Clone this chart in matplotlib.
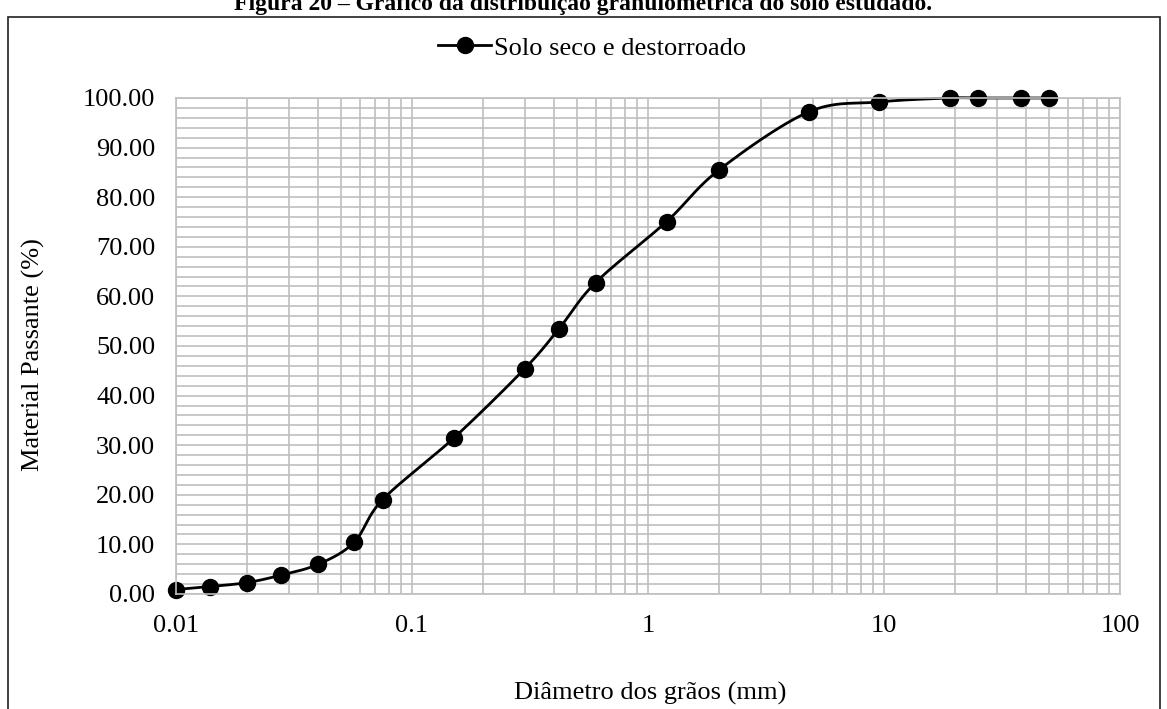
import numpy as np
import matplotlib.pyplot as plt
from matplotlib.patches import Rectangle
from matplotlib.ticker import FixedLocator, LogLocator, NullFormatter

plt.rcParams['font.family'] = ['Liberation Serif', 'DejaVu Serif']

# granulometria: diâmetro (mm) x material passante (%)
diametros = [0.01, 0.0139, 0.02, 0.0278, 0.0401, 0.0568, 0.075, 0.15, 0.3, 0.42,
             0.6, 1.2, 2.0, 4.8, 9.5, 19, 25, 38, 50]
passante = [0.9, 1.5, 2.3, 3.8, 6.0, 10.4, 19.0, 31.4, 45.4, 53.5,
            62.8, 75.1, 85.5, 97.2, 99.2, 100.0, 100.0, 100.0, 100.0]

serie = 'Solo seco e destorroado'
titulo = 'Figura 20 – Gráfico da distribuição granulométrica do solo estudado.'
xticks = [0.01, 0.1, 1, 10, 100]
xticklabels = ['0.01', '0.1', '1', '10', '100']
yticks = list(range(0, 101, 10))

fs = 19
W, H = 1167, 709
fig = plt.figure(figsize=(W / 100, H / 100), dpi=100)
ax = fig.add_axes([176 / W, 1 - 594 / H, (1120 - 176) / W, (594 - 98) / H])

ax.set_xscale('log')
ax.set_xlim(0.01, 100)
ax.set_ylim(0, 100)

grid_c = '#BFBFBF'
ax.xaxis.set_major_locator(FixedLocator(xticks))
ax.xaxis.set_minor_locator(LogLocator(base=10, subs=np.arange(2, 10)))
ax.xaxis.set_minor_formatter(NullFormatter())
ax.set_xticklabels(xticklabels)
ax.yaxis.set_major_locator(FixedLocator(yticks))
ax.yaxis.set_minor_locator(FixedLocator(range(0, 101, 2)))
ax.set_yticklabels(['%.2f' % v for v in yticks])
ax.grid(True, which='both', color=grid_c, lw=1.2)
ax.set_axisbelow(True)
ax.tick_params(which='both', length=0, labelsize=fs)
ax.tick_params(axis='x', pad=15)
ax.tick_params(axis='y', pad=15)
for s in ax.spines.values():
    s.set_color(grid_c)
    s.set_linewidth(1.2)

# curva suavizada (Catmull-Rom em coordenadas de tela, como no Excel)
pts = ax.transData.transform(np.column_stack([diametros, passante]))
p = np.vstack([pts[0], pts, pts[-1]])
t = np.linspace(0, 1, 30)[:, None]
curva = []
for i in range(1, len(p) - 2):
    p0, p1, p2, p3 = p[i - 1], p[i], p[i + 1], p[i + 2]
    c1 = p1 + (p2 - p0) / 6
    c2 = p2 - (p3 - p1) / 6
    seg = ((1 - t) ** 3) * p1 + 3 * ((1 - t) ** 2) * t * c1 + 3 * (1 - t) * t ** 2 * c2 + t ** 3 * p2
    curva.append(seg)
curva = ax.transData.inverted().transform(np.vstack(curva))
ax.plot(curva[:, 0], curva[:, 1], color='black', lw=2.0, clip_on=False)
ax.plot(diametros, passante, 'o', color='black', ms=11.5, clip_on=False)

# legenda
h = plt.Line2D([], [], color='black', lw=2.0, marker='o', ms=11.5)
fig.legend([h], [serie], loc='center', bbox_to_anchor=(592 / W, 1 - 48 / H),
           frameon=False, fontsize=fs, handlelength=2.0, handletextpad=0.1)

ax.set_ylabel('Material Passante (%)', fontsize=fs)
ax.yaxis.set_label_coords(45 / W, 0.5, transform=fig.transFigure)
ax.set_xlabel('Diâmetro dos grãos (mm)', fontsize=fs)
ax.xaxis.set_label_coords(650 / W, 1 - 693 / H, transform=fig.transFigure)
ax.xaxis.label.set_verticalalignment('center')

fig.add_artist(Rectangle((8 / W, -0.1), (1160 - 8) / W, 0.1 + 1 - 17 / H,
                         transform=fig.transFigure, fill=False,
                         edgecolor='#202020', lw=1.2))
fig.text(583 / W, 1 - 10 / H, titulo, ha='center', va='baseline',
         fontsize=17, fontweight='bold')

fig.savefig('out.png', dpi=100)
